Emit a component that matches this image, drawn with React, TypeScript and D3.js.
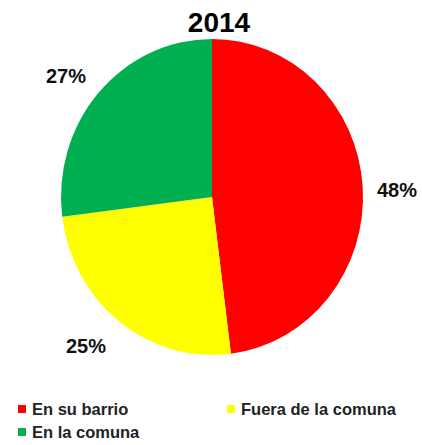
import React from "react";
import * as d3 from "d3";

const categories = ["En su barrio", "Fuera de la comuna", "En la comuna"];
const values = [48, 25, 27];
const colors = ["#FF0000", "#FFFF00", "#00B050"];
const title = "2014";

export default function App() {
  const width = 422;
  const height = 445;
  const cx = 212;
  const cy = 197;
  const r = 151;
  const sy = 158 / 151;

  const pie = d3.pie<number>().sort(null).value((d) => d);
  const arcs = pie(values);
  const arc = d3.arc<d3.PieArcDatum<number>>().innerRadius(0).outerRadius(r);

  const labelPos = [
    [397, 197],
    [86, 353],
    [66, 83],
  ];

  const legend = [
    { x: 18, y: 415 },
    { x: 227, y: 415 },
    { x: 18, y: 438 },
  ];

  return (
    <svg
      width={width}
      height={height}
      style={{ position: "absolute", left: 0, top: 0, background: "#fff" }}
      fontFamily="'Liberation Sans', Arial, sans-serif"
    >
      <text x={219} y={32} textAnchor="middle" fontSize={28} fontWeight="bold" fill="#000">
        {title}
      </text>
      <g transform={`translate(${cx},${cy}) scale(1,${sy})`}>
        {arcs.map((a, i) => (
          <path key={i} d={arc(a) || ""} fill={colors[i]} />
        ))}
      </g>
      {arcs.map((a, i) => (
        <text
          key={i}
          x={labelPos[i][0]}
          y={labelPos[i][1]}
          textAnchor="middle"
          fontSize={20}
          fontWeight="bold"
          fill="#111"
        >
          {`${values[i]}%`}
        </text>
      ))}
      {categories.map((c, i) => (
        <g key={c}>
          <rect x={legend[i].x} y={legend[i].y - 10} width={8} height={8} fill={colors[i]} />
          <text x={legend[i].x + 14} y={legend[i].y} fontSize={16.5} fontWeight="bold" fill="#222">
            {c}
          </text>
        </g>
      ))}
    </svg>
  );
}
